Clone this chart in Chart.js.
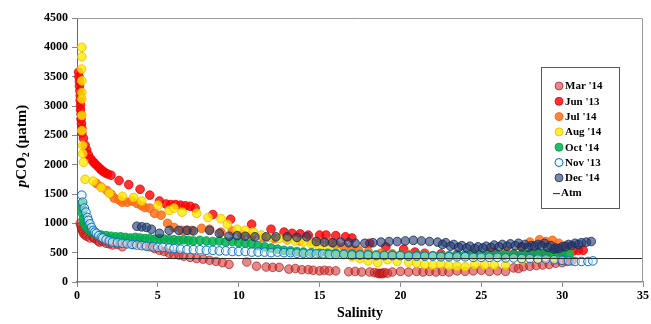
<!DOCTYPE html>
<html>
<head>
<meta charset="utf-8">
<script src="https://cdn.jsdelivr.net/npm/chart.js@4.4.0/dist/chart.umd.min.js"></script>
<style>
  html, body { margin: 0; padding: 0; background: #fff; }
  #wrap { width: 651px; height: 324px; }
</style>
</head>
<body>
<div id="wrap"><canvas id="myChart" width="651" height="324"></canvas></div>
<script>
// salinity (x) and pCO2 in uatm (y) per cruise
var seriesNames = ["Mar '14", "Jun '13", "Jul '14", "Aug '14", "Oct '14", "Nov '13", "Dec '14"];

var marSal = [0.2,0.25,0.3,0.35,0.4,0.5,0.6,0.8,1.0,1.1,1.3,1.4,1.6,1.8,2.0,2.2,2.5,2.8,3.1,3.5,3.9,4.2,4.5,4.8,5.1,5.4,5.7,6.0,6.3,6.6,7.0,7.4,7.8,8.2,8.6,9.0,9.4,10.5,11.1,11.7,12.1,12.5,13.1,13.5,13.9,14.3,14.6,15.0,15.3,15.6,16.0,16.8,17.2,17.6,18.1,18.4,18.6,18.7,18.8,18.9,19.0,19.2,19.5,20.0,20.5,21.0,21.4,21.8,22.2,22.6,23.0,23.5,24.0,24.5,25.0,25.5,26.0,26.5,27.0,27.3,27.6,28.0,28.4,28.8,29.2,29.6,30.0,30.3,30.6];
var marPco2 = [1000,950,900,870,830,800,780,750,760,740,700,680,690,660,650,630,640,600,660,640,650,620,600,570,540,520,490,470,460,440,420,400,390,370,350,330,300,340,270,255,250,250,220,230,210,210,200,190,200,190,190,175,180,170,170,160,150,140,150,140,160,150,170,180,170,180,170,180,170,180,170,190,180,190,200,180,190,180,240,230,260,270,280,290,300,320,330,350,360];

var junSal = [0.1,0.12,0.15,0.15,0.18,0.2,0.2,0.22,0.22,0.25,0.25,0.28,0.3,0.3,0.4,0.5,0.6,0.7,0.85,1.0,1.1,1.25,1.4,1.5,1.6,1.75,1.9,2.1,2.6,3.2,3.9,4.5,5.1,5.5,5.8,6.1,6.4,6.7,7.0,7.3,8.4,9.5,10.8,12.0,12.8,13.3,13.8,14.3,15.0,15.4,16.0,16.6,17.0,18.1,19.1,20.2,20.9,21.5,22.5,23.5,24.5,25.8,26.4,27.0,27.5,28.0,28.5,29.0,29.5,30.0,30.4,30.7,31.0,31.3];
var junPco2 = [3580,3500,3420,3340,3260,3180,3100,3020,2940,2860,2780,2700,2620,2540,2450,2330,2250,2170,2100,2050,2020,1980,1940,1910,1890,1860,1840,1820,1730,1660,1580,1480,1380,1330,1320,1320,1310,1300,1290,1260,1150,1070,985,900,850,830,820,800,800,800,790,770,750,660,600,560,510,490,480,470,480,510,450,480,460,470,500,480,510,500,520,530,540,540];

var julSal = [1.2,1.5,1.85,2.1,2.3,2.6,2.8,3.1,3.4,3.7,4.0,4.2,4.5,4.8,5.2,5.6,6.0,6.5,6.8,7.1,7.7,8.2,8.9,9.6,10.2,10.8,11.5,12.2,13.0,13.8,14.5,15.0,15.6,16.0,16.5,17.0,17.4,18.0,18.8,19.5,20.5,21.5,22.5,23.5,24.5,25.5,26.5,27.5,28.0,28.6,29.0,29.4,29.8,30.2,30.6];
var julPco2 = [1680,1620,1560,1500,1430,1400,1360,1360,1380,1340,1300,1270,1260,1170,1140,1000,930,880,880,880,915,900,850,870,810,780,760,740,720,700,690,680,680,640,600,560,540,520,490,480,470,470,460,470,480,500,530,600,680,720,690,710,660,620,600];

var augSal = [0.3,0.3,0.28,0.3,0.3,0.3,0.3,0.3,0.35,0.35,0.4,0.5,1.0,1.5,2.0,2.8,3.5,4.0,5.0,5.7,6.0,6.5,7.4,8.1,8.9,9.3,9.9,10.4,10.9,11.4,11.9,12.5,13.0,13.5,14.0,14.5,15.0,15.5,16.0,16.5,17.0,17.5,18.0,18.6,19.2,19.8,20.5,21.0,21.5,22.0,22.5,23.0,23.5,24.0,24.6,25.2,25.8,26.5,27.5,28.5,29.5,30.4];
var augPco2 = [4000,3840,3630,3430,3230,3120,2840,2580,2330,2190,2040,1750,1720,1610,1510,1460,1440,1380,1310,1220,1260,1190,1170,1100,1080,985,900,880,850,800,760,740,720,700,680,650,600,560,510,470,430,400,360,330,380,350,340,320,300,290,310,280,270,260,300,290,290,290,380,400,420,480];

var octSal = [0.3,0.33,0.35,0.4,0.45,0.55,0.7,0.9,1.1,1.3,1.5,1.8,2.1,2.4,2.7,3.0,3.3,3.6,3.9,4.2,4.5,4.8,5.1,5.4,5.7,6.0,6.3,6.6,6.9,7.2,7.6,8.0,8.4,8.8,9.2,9.6,10.0,10.4,10.8,11.2,11.6,12.0,12.4,12.8,13.2,13.6,14.0,14.5,15.0,15.5,16.0,16.5,17.0,17.5,18.0,18.5,19.0,19.5,20.0,20.5,21.0,21.5,22.0,22.5,23.0,23.5,24.0,24.5,25.0,25.5,26.0,26.5,27.0,27.5,28.0,28.5,29.0,29.5,30.0,30.4];
var octPco2 = [1340,1250,1170,1080,1000,950,900,860,830,810,800,790,780,770,770,760,750,760,750,740,740,730,740,730,720,720,710,720,710,700,710,700,690,700,680,690,670,660,650,620,600,580,560,540,530,520,510,500,490,490,490,480,480,470,470,460,460,460,460,450,460,450,450,450,450,460,460,460,460,460,470,470,470,480,480,490,490,480,480,470];

var novSal = [0.3,0.35,0.45,0.55,0.65,0.7,0.8,0.9,1.0,1.1,1.2,1.35,1.5,1.6,1.8,2.0,2.2,2.5,2.8,3.1,3.4,3.7,4.0,4.3,4.7,5.0,5.3,5.7,6.0,6.4,6.8,7.2,7.6,8.0,8.4,8.8,9.2,9.6,10.0,10.4,10.8,11.2,11.6,12.0,12.4,12.8,13.2,13.6,14.0,14.4,14.8,15.2,15.6,16.0,16.5,17.0,17.5,18.0,18.5,19.0,19.5,20.0,20.5,21.0,21.5,22.0,22.5,23.0,23.5,24.0,24.5,25.0,25.5,26.0,26.5,27.0,27.5,28.0,28.5,29.0,29.5,30.0,30.4,30.8,31.2,31.6,31.9];
var novPco2 = [1480,1360,1260,1190,1100,1050,990,930,880,850,830,790,760,750,720,700,680,670,660,650,640,630,620,610,600,590,590,580,570,560,550,550,550,540,540,530,530,520,520,520,510,510,510,500,510,500,500,490,490,480,480,480,470,470,470,460,460,460,450,450,450,450,440,440,440,440,430,430,430,430,420,420,420,420,410,410,400,400,390,390,380,370,360,350,350,350,360];

var decSal = [3.7,4.0,4.3,4.6,5.1,5.7,6.3,6.8,7.2,8.2,8.8,9.4,9.9,10.4,11.0,11.7,12.3,13.0,13.6,14.2,14.8,15.3,15.8,16.3,16.8,17.2,17.8,18.3,18.8,19.3,19.8,20.3,20.8,21.3,21.8,22.3,22.8,23.3,23.8,24.3,24.8,25.3,25.8,26.3,26.8,27.3,27.7,28.1,28.5,28.9,29.3,29.6,30.0,30.4,30.8,31.2,31.5,31.8,
  22.6,23.1,23.6,24.1,24.6,25.1,25.6,26.1,26.6,27.1,27.5,27.9,28.3,28.7,29.1,29.5,29.8,30.2,30.6,31.0];
var decPco2 = [950,940,930,900,830,880,880,880,870,880,830,780,790,780,770,770,770,770,760,770,690,680,670,680,670,660,660,670,680,690,690,700,710,700,690,680,670,640,620,610,600,610,630,640,650,660,640,620,640,660,620,580,600,640,660,670,680,690,
  640,610,590,580,570,580,590,600,610,620,600,590,610,620,590,560,570,600,620,640];

var atmSal = [0, 35];
var atmPco2 = [400, 400];

var xTicks = [0, 5, 10, 15, 20, 25, 30, 35];
var yTicks = [0, 500, 1000, 1500, 2000, 2500, 3000, 3500, 4000, 4500];

var serif = "'Liberation Serif', 'Times New Roman', serif";

function pts(xs, ys) {
  return xs.map(function (x, i) { return { x: x, y: ys[i] }; });
}

var styles = [
  { bg: 'rgba(205, 40, 40, 0.55)', bd: 'rgba(170, 0, 0, 0.6)' },
  { bg: 'rgba(255, 0, 0, 0.8)', bd: 'rgba(235, 0, 0, 0.85)' },
  { bg: 'rgba(255, 112, 24, 0.85)', bd: 'rgba(245, 100, 20, 0.9)' },
  { bg: 'rgba(255, 235, 0, 0.8)', bd: 'rgba(240, 190, 0, 0.9)' },
  { bg: 'rgba(0, 176, 80, 0.85)', bd: 'rgba(0, 160, 70, 0.9)' },
  { bg: 'rgba(225, 238, 250, 0.5)', bd: 'rgba(0, 112, 192, 1)' },
  { bg: 'rgba(31, 56, 110, 0.6)', bd: 'rgba(25, 45, 95, 0.85)' }
];
var allX = [marSal, junSal, julSal, augSal, octSal, novSal, decSal];
var allY = [marPco2, junPco2, julPco2, augPco2, octPco2, novPco2, decPco2];

var datasets = seriesNames.map(function (name, i) {
  return {
    label: name,
    data: pts(allX[i], allY[i]),
    backgroundColor: styles[i].bg,
    borderColor: styles[i].bd,
    borderWidth: 1,
    pointRadius: 4.3,
    pointHoverRadius: 4.3,
    clip: false,
    order: 8 - i
  };
});
datasets.push({
  label: 'Atm',
  data: pts(atmSal, atmPco2),
  showLine: true,
  borderColor: '#262626',
  borderWidth: 1,
  pointRadius: 0,
  order: 0
});

// frame, y title with italic p and subscript 2, boxed legend inside the plot
var extras = {
  id: 'extras',
  afterDraw: function (chart) {
    var ctx = chart.ctx, a = chart.chartArea;
    ctx.save();
    ctx.strokeStyle = '#9a9a9a';
    ctx.lineWidth = 1;
    ctx.beginPath();
    ctx.moveTo(a.left, a.top + 0.5);
    ctx.lineTo(a.right - 0.5, a.top + 0.5);
    ctx.lineTo(a.right - 0.5, a.bottom);
    ctx.stroke();

    // y axis title
    ctx.translate(22, 146);
    ctx.rotate(-Math.PI / 2);
    ctx.fillStyle = '#000';
    ctx.textBaseline = 'middle';
    var parts = [
      { t: 'p', f: 'italic bold 15px ' + serif, dy: 0 },
      { t: 'CO', f: 'bold 15px ' + serif, dy: 0 },
      { t: '2', f: 'bold 10px ' + serif, dy: 4 },
      { t: ' (\u00b5atm)', f: 'bold 15px ' + serif, dy: 0 }
    ];
    var total = 0;
    parts.forEach(function (p) { ctx.font = p.f; p.w = ctx.measureText(p.t).width; total += p.w; });
    var cx = -total / 2;
    parts.forEach(function (p) { ctx.font = p.f; ctx.fillText(p.t, cx, p.dy); cx += p.w; });
    ctx.setTransform(1, 0, 0, 1, 0, 0);

    // legend
    var lx = 541, ly = 67, lw = 78, lh = 141;
    ctx.fillStyle = '#fff';
    ctx.fillRect(lx, ly, lw, lh);
    ctx.strokeStyle = '#595959';
    ctx.strokeRect(lx + 0.5, ly + 0.5, lw, lh);
    ctx.font = 'bold 11px ' + serif;
    ctx.textBaseline = 'middle';
    for (var i = 0; i < seriesNames.length; i++) {
      var y = 86 + i * 15.3;
      ctx.beginPath();
      ctx.arc(559, y, 4, 0, Math.PI * 2);
      ctx.fillStyle = '#fff';
      ctx.fill();
      ctx.fillStyle = styles[i].bg;
      ctx.fill();
      ctx.strokeStyle = styles[i].bd;
      ctx.stroke();
      ctx.fillStyle = '#000';
      ctx.fillText(seriesNames[i], 565, y + 0.5);
    }
    var ay = 86 + 7 * 15.3;
    ctx.strokeStyle = '#262626';
    ctx.beginPath();
    ctx.moveTo(553, ay + 0.5);
    ctx.lineTo(560, ay + 0.5);
    ctx.stroke();
    ctx.fillStyle = '#000';
    ctx.fillText('Atm', 561, ay + 0.5);
    ctx.restore();
  }
};

var ctx = document.getElementById('myChart').getContext('2d');
var chart = new Chart(ctx, {
  type: 'scatter',
  data: { datasets: datasets },
  options: {
    responsive: false,
    animation: false,
    layout: { padding: { left: 0, right: 5, top: 18, bottom: 0 } },
    plugins: { legend: { display: false }, tooltip: { enabled: false } },
    scales: {
      x: {
        type: 'linear',
        min: 0,
        max: 35,
        afterBuildTicks: function (s) { s.ticks = xTicks.map(function (v) { return { value: v }; }); },
        afterFit: function (s) { s.height = 42; },
        grid: { display: true, drawOnChartArea: false, tickLength: 5, tickColor: '#888' },
        border: { color: '#888', width: 1.5 },
        ticks: { color: '#000', padding: 2, maxRotation: 0, callback: function (v) { return String(v); }, font: { family: serif, size: 12, weight: 'bold' } },
        title: { display: true, text: 'Salinity', color: '#000', padding: { top: 0, bottom: 2 }, font: { family: serif, size: 14, weight: 'bold' } }
      },
      y: {
        type: 'linear',
        min: 0,
        max: 4500,
        afterBuildTicks: function (s) { s.ticks = yTicks.map(function (v) { return { value: v }; }); },
        afterFit: function (s) { s.width = 77; },
        grid: { display: true, drawOnChartArea: false, tickLength: 5, tickColor: '#888' },
        border: { color: '#666', width: 1 },
        ticks: { color: '#000', padding: 4, callback: function (v) { return String(v); }, font: { family: serif, size: 12, weight: 'bold' } }
      }
    }
  },
  plugins: [extras]
});
</script>
</body>
</html>
